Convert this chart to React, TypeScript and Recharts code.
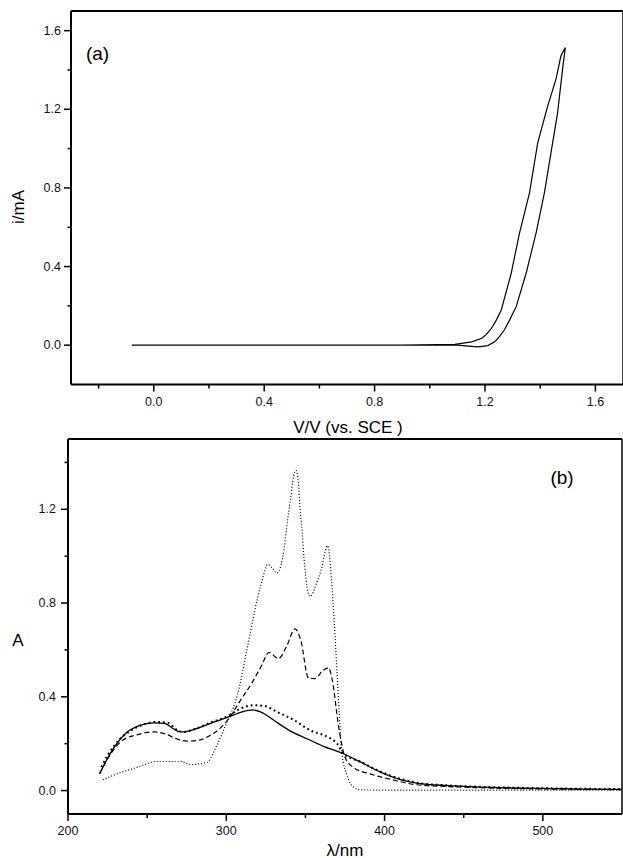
import React from 'react';
import { LineChart, Line, XAxis, YAxis, Label, ReferenceLine } from 'recharts';

// ---------- Panel (a): cyclic voltammogram ----------
const cvPotential = [
  -0.08, 0.1, 0.3, 0.5, 0.7, 0.9, 1.05, 1.1, 1.13, 1.175, 1.21, 1.235, 1.25, 1.27, 1.29, 1.313, 1.349, 1.385,
  1.415, 1.439, 1.463, 1.481, 1.491,
  1.475, 1.457, 1.427, 1.391, 1.361, 1.325, 1.295, 1.259, 1.24, 1.223, 1.205, 1.187, 1.151, 1.091, 0.9, 0.6,
  0.3, -0.08,
];
const cvCurrent = [
  0, 0, 0, 0, 0, 0, 0, 0.0, -0.004, -0.009, -0.002, 0.017, 0.04, 0.077, 0.13, 0.196, 0.366, 0.57,
  0.774, 0.978, 1.182, 1.403, 1.514,
  1.471, 1.352, 1.216, 1.029, 0.774, 0.57, 0.366, 0.179, 0.125, 0.085, 0.055, 0.034, 0.017, 0.004, 0.001, 0,
  0, 0,
];
const cvXMajor = [0, 0.4, 0.8, 1.2, 1.6];
const cvXMinor = [-0.2, 0.2, 0.6, 1.0, 1.4];
const cvYMajor = [0, 0.4, 0.8, 1.2, 1.6];
const cvYMinor = [0.2, 0.6, 1.0, 1.4];

// ---------- Panel (b): UV-vis spectra ----------
const solidWavelength = [
  220, 224, 230, 237, 245, 254, 261, 266, 271, 276, 284, 292, 301, 310, 317, 322, 330, 340, 351, 361, 374,
  385, 397, 410, 421, 440, 460, 480, 500, 525, 550,
];
const solidAbs = [
  0.072, 0.125, 0.193, 0.248, 0.277, 0.289, 0.287, 0.266, 0.25, 0.254, 0.271, 0.292, 0.313, 0.336, 0.344,
  0.335, 0.3, 0.256, 0.221, 0.19, 0.157, 0.121, 0.08, 0.047, 0.031, 0.021, 0.015, 0.011, 0.009, 0.006, 0.005,
];

const dashedWavelength = [
  220, 227, 234, 244, 254, 261, 269, 275, 282, 290, 298, 303, 309, 316, 322, 327, 333, 338, 343.5, 347, 352,
  356, 361, 364.5, 367, 371, 375, 380, 391, 405, 420, 440, 460, 500, 550,
];
const dashedAbs = [
  0.072, 0.157, 0.212, 0.239, 0.25, 0.243, 0.22, 0.211, 0.214, 0.236, 0.278, 0.321, 0.386, 0.457, 0.529,
  0.589, 0.563, 0.614, 0.69, 0.643, 0.479, 0.478, 0.512, 0.524, 0.47, 0.271, 0.143, 0.1, 0.071, 0.046,
  0.025, 0.017, 0.012, 0.007, 0.004,
];

const boldDotWavelength = [
  221, 225, 233, 240, 248, 256, 263, 269, 273, 280, 290, 300, 309, 317, 324, 332, 343, 353, 364, 370, 374,
  385, 397, 410, 421, 440, 460, 500, 550,
];
const boldDotAbs = [
  0.1, 0.15, 0.221, 0.257, 0.283, 0.293, 0.289, 0.258, 0.25, 0.262, 0.29, 0.314, 0.35, 0.364, 0.361, 0.336,
  0.3, 0.257, 0.229, 0.2, 0.158, 0.122, 0.082, 0.05, 0.033, 0.022, 0.016, 0.01, 0.006,
];

const fineDotWavelength = [
  222, 231, 244, 256, 271, 278, 288, 294, 300.5, 307, 313, 319.5, 324, 326, 329, 332, 334.5, 336.5, 338.5,
  340.5, 342.5, 344, 345.5, 346.5, 348, 349, 350, 351, 353, 357, 360.5, 362.5, 364, 365.5, 366.5, 367.5,
  370, 373, 376, 380.5, 385, 400, 450, 500, 550,
];
const fineDotAbs = [
  0.046, 0.071, 0.1, 0.124, 0.124, 0.111, 0.121, 0.193, 0.293, 0.407, 0.6, 0.814, 0.929, 0.965, 0.95, 0.928,
  0.96, 1.03, 1.142, 1.241, 1.34, 1.366, 1.32, 1.213, 1.099, 1.0, 0.928, 0.87, 0.828, 0.885, 0.956, 1.02,
  1.045, 0.985, 0.9, 0.8, 0.5, 0.16, 0.071, 0.014, 0.003, 0.002, 0.002, 0.002, 0.002,
];
const uvXMajor = [200, 300, 400, 500];
const uvXMinor = [250, 350, 450];
const uvYMajor = [0, 0.4, 0.8, 1.2];
const uvYMinor = [0.2, 0.6, 1.0, 1.4];

const zip = (xs: number[], ys: number[]) => xs.map((x, i) => ({ x, y: ys[i] }));

const FONT = '"Liberation Sans", Arial, Helvetica, sans-serif';
const TICK_COLOR = '#111';
const TICK_SIZE = 12.5;

const makeXTick = (majors: number[], fmt: (v: number) => string) => (props: any) => {
  const { x, y, payload } = props;
  const major = majors.some((m) => Math.abs(m - payload.value) < 1e-9);
  return (
    <g>
      <line x1={x} x2={x} y1={y} y2={y + (major ? 7 : 4)} stroke="#000" strokeWidth={1.5} />
      {major && (
        <text x={x} y={y + 17} textAnchor="middle" dominantBaseline="central" fontFamily={FONT} fontSize={TICK_SIZE} fill={TICK_COLOR}>
          {fmt(payload.value)}
        </text>
      )}
    </g>
  );
};

const makeYTick = (majors: number[], gap: number) => (props: any) => {
  const { x, y, payload } = props;
  const major = majors.some((m) => Math.abs(m - payload.value) < 1e-9);
  return (
    <g>
      <line x1={x - (major ? 7 : 3.5)} x2={x} y1={y} y2={y} stroke="#000" strokeWidth={1.5} />
      {major && (
        <text x={x - gap} y={y} textAnchor="end" dominantBaseline="central" fontFamily={FONT} fontSize={TICK_SIZE} fill={TICK_COLOR}>
          {payload.value.toFixed(1)}
        </text>
      )}
    </g>
  );
};

const fixedText = (txt: string, x: number, y: number, size: number, rotate = false) => () => (
  <text
    x={x}
    y={y}
    textAnchor="middle"
    dominantBaseline="central"
    fontFamily={FONT}
    fontSize={size}
    fill="#000"
    transform={rotate ? `rotate(-90 ${x} ${y})` : undefined}
  >
    {txt}
  </text>
);

const axisLine = { stroke: '#000', strokeWidth: 2 };

export default function App() {
  const cvData = zip(cvPotential, cvCurrent);
  const solid = zip(solidWavelength, solidAbs);
  const dashed = zip(dashedWavelength, dashedAbs);
  const boldDot = zip(boldDotWavelength, boldDotAbs);
  const fineDot = zip(fineDotWavelength, fineDotAbs);

  return (
    <div style={{ position: 'absolute', left: 0, top: 0, width: 623, height: 858, background: '#fff' }}>
      <div style={{ position: 'absolute', left: 0, top: 0 }}>
        <LineChart width={623} height={440} margin={{ top: 11, right: 0, bottom: 0, left: 0 }}>
          <XAxis
            xAxisId="b"
            dataKey="x"
            type="number"
            domain={[-0.3, 1.7]}
            allowDataOverflow
            ticks={[...cvXMinor, ...cvXMajor].sort((a, b) => a - b)}
            interval={0}
            tickLine={false}
            tickSize={0}
            tickMargin={0}
            tick={makeXTick(cvXMajor, (v) => v.toFixed(1))}
            height={55.5}
            axisLine={axisLine}
          >
            <Label content={fixedText('V/V (vs. SCE )', 348, 427, 17)} />
          </XAxis>
          <YAxis
            yAxisId="l"
            type="number"
            domain={[-0.2, 1.7]}
            allowDataOverflow
            ticks={[...cvYMinor, ...cvYMajor].sort((a, b) => a - b)}
            interval={0}
            tickLine={false}
            tickSize={0}
            tickMargin={0}
            tick={makeYTick(cvYMajor, 10)}
            width={71}
            axisLine={axisLine}
          >
            <Label content={fixedText('i/mA', 18, 207, 17, true)} />
          </YAxis>
          <ReferenceLine xAxisId="b" yAxisId="l" y={1.7} stroke="#000" strokeWidth={2} ifOverflow="visible">
            <Label content={fixedText('(a)', 97.5, 53, 19)} />
          </ReferenceLine>
          <ReferenceLine xAxisId="b" yAxisId="l" x={1.7} stroke="#000" strokeWidth={1.5} ifOverflow="visible" />
          <Line
            xAxisId="b"
            yAxisId="l"
            data={cvData}
            dataKey="y"
            type="linear"
            stroke="#000"
            strokeWidth={1.2}
            dot={false}
            isAnimationActive={false}
          />
        </LineChart>
      </div>

      <div style={{ position: 'absolute', left: 0, top: 430 }}>
        <LineChart width={623} height={428} margin={{ top: 9, right: 1, bottom: 0, left: 0 }}>
          <XAxis
            xAxisId="b"
            dataKey="x"
            type="number"
            domain={[200, 550]}
            allowDataOverflow
            ticks={[...uvXMinor, ...uvXMajor].sort((a, b) => a - b)}
            interval={0}
            tickLine={false}
            tickSize={0}
            tickMargin={0}
            tick={makeXTick(uvXMajor, (v) => String(v))}
            height={44}
            axisLine={axisLine}
          >
            <Label content={fixedText('λ/nm', 345, 420, 17)} />
          </XAxis>
          <YAxis
            yAxisId="l"
            type="number"
            domain={[-0.1, 1.5]}
            allowDataOverflow
            ticks={[...uvYMinor, ...uvYMajor].sort((a, b) => a - b)}
            interval={0}
            tickLine={false}
            tickSize={0}
            tickMargin={0}
            tick={makeYTick(uvYMajor, 12)}
            width={68}
            axisLine={axisLine}
          >
            <Label content={fixedText('A', 18, 210, 17)} />
          </YAxis>
          <ReferenceLine xAxisId="b" yAxisId="l" y={1.5} stroke="#000" strokeWidth={2} ifOverflow="visible">
            <Label content={fixedText('(b)', 562, 47, 19)} />
          </ReferenceLine>
          <ReferenceLine xAxisId="b" yAxisId="l" x={550} stroke="#000" strokeWidth={1.5} ifOverflow="visible" />
          <Line xAxisId="b" yAxisId="l" data={fineDot} dataKey="y" type="monotone" stroke="#000" strokeWidth={1.2} strokeDasharray="1 2" dot={false} isAnimationActive={false} />
          <Line xAxisId="b" yAxisId="l" data={boldDot} dataKey="y" type="monotone" stroke="#000" strokeWidth={2} strokeDasharray="1.8 3" dot={false} isAnimationActive={false} />
          <Line xAxisId="b" yAxisId="l" data={dashed} dataKey="y" type="monotone" stroke="#000" strokeWidth={1.2} strokeDasharray="5 3" dot={false} isAnimationActive={false} />
          <Line xAxisId="b" yAxisId="l" data={solid} dataKey="y" type="monotone" stroke="#000" strokeWidth={1.3} dot={false} isAnimationActive={false} />
        </LineChart>
      </div>
    </div>
  );
}
